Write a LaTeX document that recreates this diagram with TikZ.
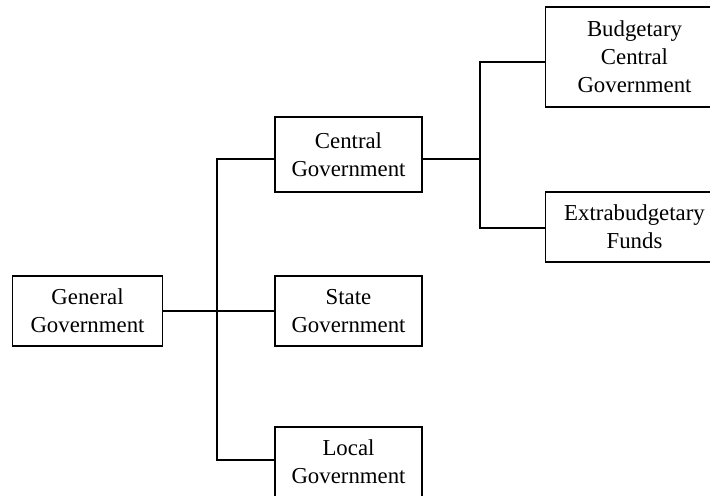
\documentclass[tikz,border=0pt]{standalone}
\usepackage{fontspec}
\setmainfont{Liberation Serif}
\begin{document}
\begin{tikzpicture}[x=0.5pt,y=-0.5pt,
  orgbox/.style={draw,line width=0.9pt,rectangle,align=center,inner sep=0pt,
    font=\fontsize{11.4}{13.85}\selectfont},
  link/.style={line width=0.9pt}]
\useasboundingbox (0,0) rectangle (710,495);
\clip (0,0) rectangle (710,495);
\node[orgbox,minimum width=75pt,minimum height=35pt] (general) at (87.5,311) {General\\Government};
\node[orgbox,minimum width=73.5pt,minimum height=37.5pt] (central) at (348.5,154.5) {Central\\Government};
\node[orgbox,minimum width=73.5pt,minimum height=35pt] (state) at (348.5,311) {State\\Government};
\node[orgbox,minimum width=73.5pt,minimum height=35pt] (local) at (348.5,461.7) {Local\\Government};
\node[orgbox,minimum width=89pt,minimum height=49.85pt] (budget) at (634.5,56.85) {Budgetary\\Central\\Government};
\node[orgbox,minimum width=89pt,minimum height=34.7pt] (extra) at (634.5,227) {Extrabudgetary\\Funds};
\coordinate (ja) at (216.7,159.3);
\coordinate (jb) at (216.7,460);
\coordinate (jc) at (480,62.3);
\coordinate (jd) at (480,227.7);
\draw[link] (general.east) -- (state.west);
\draw[link] (ja -| central.west) -- (ja) -- (jb) -- (jb -| local.west);
\draw[link] (ja -| central.east) -- (ja -| jc);
\draw[link] (jc -| budget.west) -- (jc) -- (jd) -- (jd -| extra.west);
\end{tikzpicture}
\end{document}
